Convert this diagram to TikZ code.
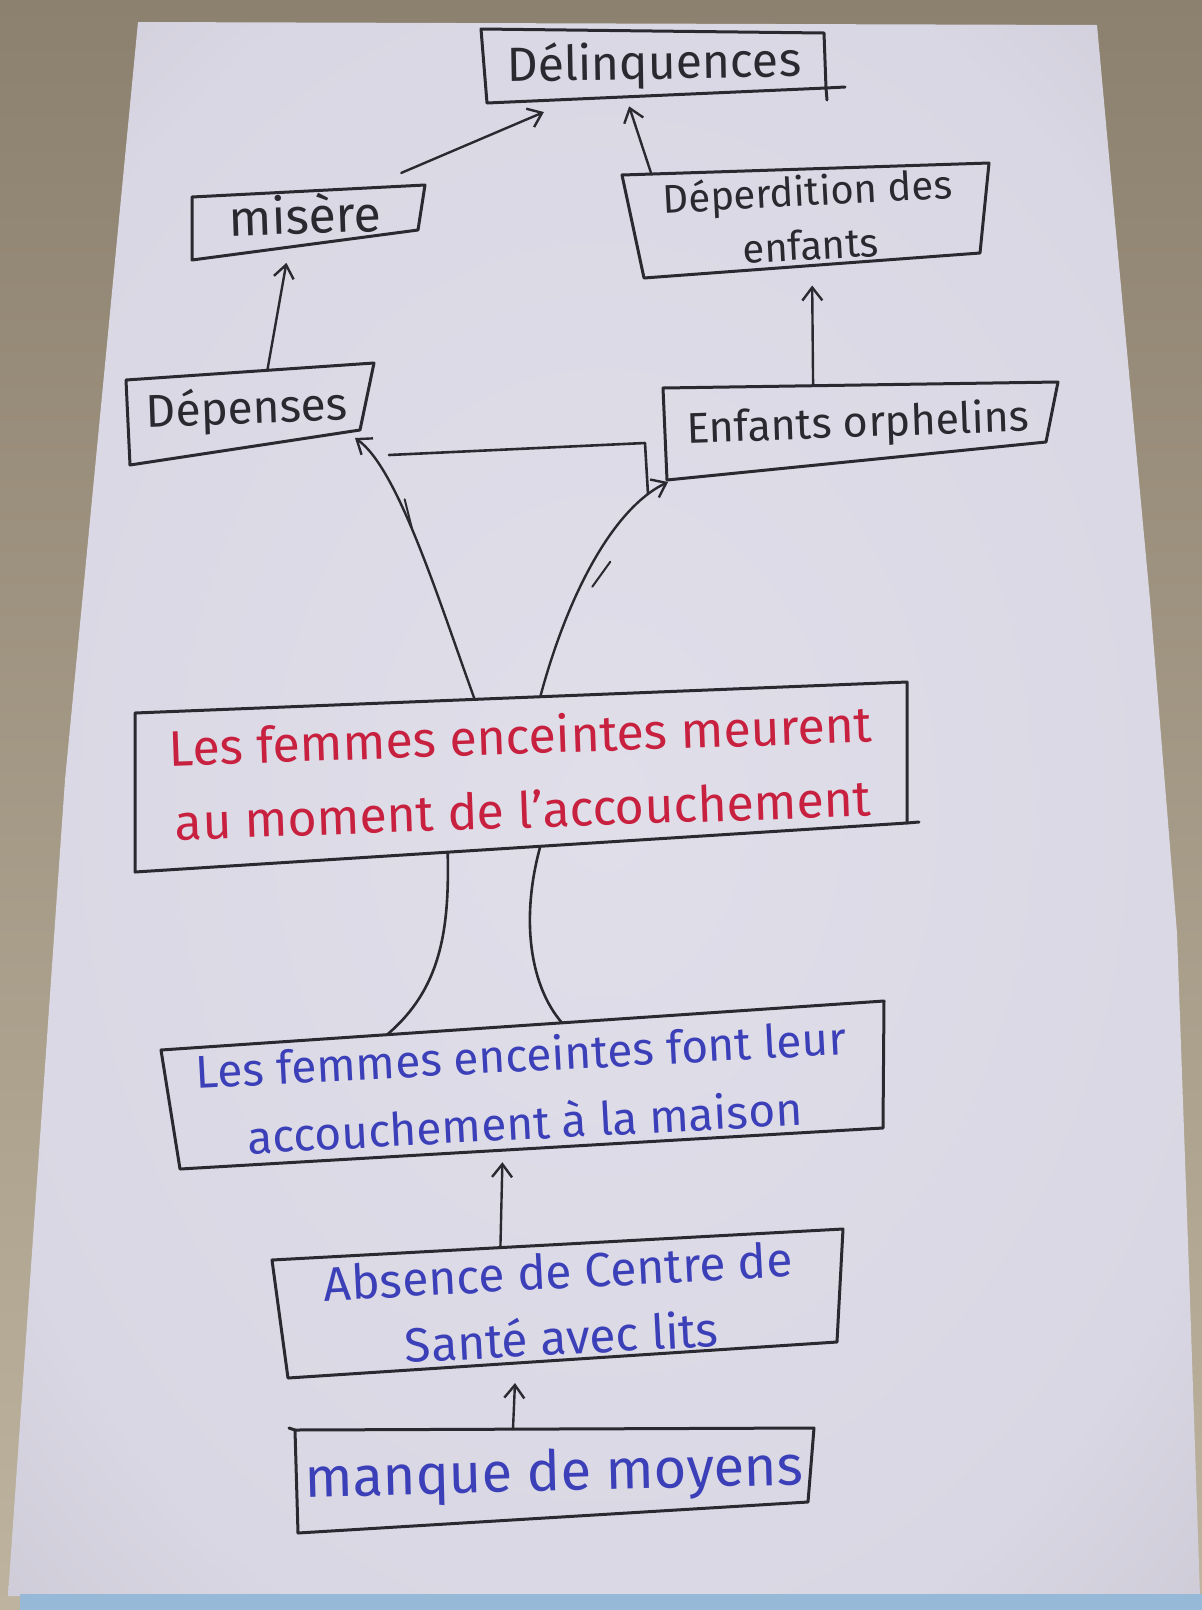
\documentclass[tikz,border=0pt]{standalone}
\usepackage{fontspec}
\setmainfont{Fira Sans}
\usetikzlibrary{arrows.meta,calc}
\definecolor{inkc}{HTML}{2B2930}
\definecolor{redc}{HTML}{C8203F}
\definecolor{bluec}{HTML}{3C40B8}
\definecolor{wallT}{HTML}{8C806E}
\definecolor{wallB}{HTML}{BDB39E}
\definecolor{tape}{HTML}{97B9D8}
\pgfdeclareradialshading{papershade}{\pgfpoint{0bp}{0bp}}{%
  color(0bp)=(rgb,255:red,224;green,222;blue,233);
  color(28bp)=(rgb,255:red,217;green,215;blue,227);
  color(42bp)=(rgb,255:red,198;green,195;blue,207);
  color(58bp)=(rgb,255:red,150;green,141;blue,152);
  color(71bp)=(rgb,255:red,118;green,108;blue,108)}
\tikzset{
  txt/.style={inner sep=0pt, align=center, text=inkc},
  quad/.style={draw=inkc, line width=3pt, line join=round, line cap=round},
  arr/.style={draw=inkc, line width=2.4pt, line cap=round,
    -{Straight Barb[length=13pt,width=20pt,line width=2.4pt]}},
  trunk/.style={draw=inkc, line width=2.6pt, line cap=round},
}
\begin{document}
\begin{tikzpicture}[x=1pt,y=-1pt]
\useasboundingbox (0,0) rectangle (1202,1610);
% wall and paper
\shade[top color=wallT, bottom color=wallB] (0,0) rectangle (1202,1610);
\shade[shading=papershade]
  (138,22) -- (1097,25) -- (1113,200) -- (1150,600) -- (1177,933) -- (1190,1300)
  -- (1200,1596) -- (8,1596) -- (65,780) -- cycle;
\fill[tape] (20,1594) rectangle (1202,1610);

% ---------- texts (nodes) ----------
\node[txt, minimum width=340pt, minimum height=68pt, rotate=1,
  font=\fontsize{48}{52}\selectfont] (del) at (654,65) {Délinquences};
\node[txt, minimum width=230pt, minimum height=57pt, rotate=2,
  font=\fontsize{50}{54}\selectfont] (mis) at (305,214) {misère};
\node[txt, rotate=3, font=\fontsize{40}{54}\selectfont] (dpd) at (809,217)
  {Déperdition des\\enfants};
\node[txt, rotate=2, font=\fontsize{46}{50}\selectfont] (dps) at (247,410) {Dépenses};
\node[txt, rotate=2, font=\fontsize{43}{46}\selectfont] (orp) at (858,425) {Enfants orphelins};
\node[txt, rotate=2, text=redc, font=\fontsize{50}{74}\selectfont] (red) at (522,772)
  {Les femmes enceintes meurent\\au moment de l'accouchement};
\node[txt, rotate=3, text=bluec, font=\fontsize{46}{68}\selectfont] (fem) at (523,1088)
  {Les femmes enceintes font leur\\accouchement à la maison};
\node[txt, rotate=3, text=bluec, font=\fontsize{48}{66}\selectfont] (abs) at (560,1304)
  {Absence de Centre de\\Santé avec lits};
\node[txt, rotate=1.5, text=bluec, font=\fontsize{56}{60}\selectfont] (man) at (554,1476)
  {manque de moyens};

% ---------- hand-drawn box corners, relative to the text nodes ----------
\coordinate (delA) at ($(del)+(-173,-36)$); \coordinate (delB) at ($(del)+(170,-32)$);
\coordinate (delC) at ($(del)+(172,23)$);   \coordinate (delD) at ($(del)+(-167,38)$);
\coordinate (misA) at ($(mis)+(-113,-17)$); \coordinate (misB) at ($(mis)+(120,-29)$);
\coordinate (misC) at ($(mis)+(113,16)$);   \coordinate (misD) at ($(mis)+(-113,46)$);
\coordinate (dpdA) at ($(dpd)+(-187,-42)$); \coordinate (dpdB) at ($(dpd)+(180,-54)$);
\coordinate (dpdC) at ($(dpd)+(171,36)$);   \coordinate (dpdD) at ($(dpd)+(-165,61)$);
\coordinate (dpsA) at ($(dps)+(-121,-30)$); \coordinate (dpsB) at ($(dps)+(127,-47)$);
\coordinate (dpsC) at ($(dps)+(113,20)$);   \coordinate (dpsD) at ($(dps)+(-117,55)$);
\coordinate (orpA) at ($(orp)+(-195,-37)$); \coordinate (orpB) at ($(orp)+(200,-43)$);
\coordinate (orpC) at ($(orp)+(188,17)$);   \coordinate (orpD) at ($(orp)+(-191,55)$);
\coordinate (redA) at ($(red)+(-387,-59)$); \coordinate (redB) at ($(red)+(385,-90)$);
\coordinate (redC) at ($(red)+(385,51)$);   \coordinate (redD) at ($(red)+(-387,100)$);
\coordinate (femA) at ($(fem)+(-362,-38)$); \coordinate (femB) at ($(fem)+(361,-87)$);
\coordinate (femC) at ($(fem)+(360,40)$);   \coordinate (femD) at ($(fem)+(-343,81)$);
\coordinate (absA) at ($(abs)+(-288,-44)$); \coordinate (absB) at ($(abs)+(283,-75)$);
\coordinate (absC) at ($(abs)+(277,38)$);   \coordinate (absD) at ($(abs)+(-272,74)$);
\coordinate (manA) at ($(man)+(-259,-46)$); \coordinate (manB) at ($(man)+(260,-48)$);
\coordinate (manC) at ($(man)+(254,26)$);   \coordinate (manD) at ($(man)+(-256,57)$);

\foreach \b in {del,mis,dpd,dps,orp,red,fem,abs,man}
  \draw[quad] (\b A) -- (\b B) -- (\b C) -- (\b D) -- cycle;
% pen overhangs at box corners
\draw[quad] (delC) -- ($(delC)+(19,-1)$);
\draw[quad] (delC) -- ($(delC)+(1,12)$);
\draw[quad] (redC) -- ($(redC)+(12,-1)$);
\draw[quad] (manA) -- ($(manA)+(-6,-2)$);

% ---------- arrows between upper boxes ----------
\draw[arr, shorten <=25pt, shorten >=29pt] (mis) -- (del);
\draw[arr, shorten >=10pt] ($(dpdA)!0.08!(dpdB)$) -- ($(delD)!0.41!(delC)$);
\draw[arr, shorten >=16pt] ($(dpsA)!0.57!(dpsB)$) -- ($(misD)!0.43!(misC)$);
\draw[arr, shorten >=20pt] ($(orpA)!0.38!(orpB)$) -- ($(dpdD)!0.5!(dpdC)$);

% ---------- upper trunk (branches) ----------
\coordinate (lt0) at ($(redA)!0.44!(redB)$);
\coordinate (rt0) at ($(redA)!0.525!(redB)$);
\coordinate (lt1) at ($(dpsC)+(-5,8)$);
\coordinate (rt1) at ($(orpD)+(1,2)$);
\draw[arr] (lt0) .. controls ($(lt0)+(-36,-99)$) and ($(lt1)+(43,30)$) .. (lt1);
\draw[arr] (rt0) .. controls ($(rt0)+(25,-94)$) and ($(rt1)+(-58,28)$) .. (rt1);
\coordinate (fl) at ($(dpsC)+(29,25)$);
\coordinate (fr) at ($(orpD)+(-22,-37)$);
\coordinate (fb) at ($(orpD)+(-19,14)$);
\draw[trunk, line join=round] (fl) -- (fr) -- (fb);
% small extra pen strokes on the branches
\draw[trunk, line width=2pt] ($(lt0)+(-70,-200)$) -- ($(lt0)+(-63,-172)$);
\draw[trunk, line width=2pt] ($(rt0)+(70,-135)$) -- ($(rt0)+(52,-110)$);

% ---------- lower trunk (roots) ----------
\coordinate (lb0) at ($(redD)!0.405!(redC)$);
\coordinate (rb0) at ($(redD)!0.525!(redC)$);
\coordinate (lb1) at ($(femA)!0.3126!(femB)$);
\coordinate (rb1) at ($(femA)!0.5546!(femB)$);
\draw[trunk] (lb0) .. controls ($(lb0)+(2,80)$) and ($(lb1)+(53,-45)$) .. (lb1);
\draw[trunk] (rb0) .. controls ($(rb0)+(-20,73)$) and ($(rb1)+(-32,-37)$) .. (rb1);

% ---------- lower arrows ----------
\draw[arr, shorten >=12pt] ($(absA)!0.40!(absB)$) -- ($(femD)!0.459!(femC)$);
\draw[arr, shorten >=20pt] ($(manA)!0.42!(manB)$) -- ($(absD)!0.415!(absC)$);
\end{tikzpicture}
\end{document}
